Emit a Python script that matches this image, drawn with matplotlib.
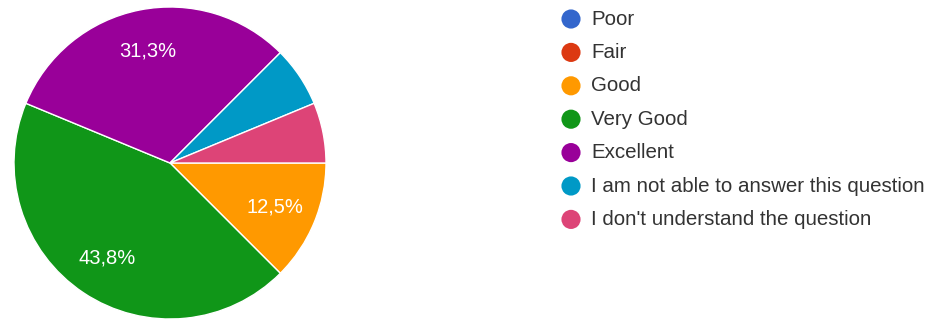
import matplotlib
matplotlib.use("Agg")
import matplotlib.pyplot as plt

categories = ["Poor", "Fair", "Good", "Very Good", "Excellent",
              "I am not able to answer this question",
              "I don't understand the question"]
counts = [0, 0, 2, 7, 5, 1, 1]
colors = ["#3366cc", "#dc3912", "#ff9900", "#109618", "#990099",
          "#0099c6", "#dd4477"]

plt.rcParams["font.family"] = ["Liberation Sans", "DejaVu Sans"]

W, H = 940, 322
fig = plt.figure(figsize=(W / 100, H / 100), dpi=100)
fig.patch.set_facecolor("white")

# pie axes, placed in pixel units
cx, cy, r = 170, 163, 156
ax = fig.add_axes([(cx - r) / W, (H - cy - r) / H, 2 * r / W, 2 * r / H])


def pct_label(p):
    if p < 10:
        return ""
    # round half up, e.g. 31.25 -> 31,3
    return f"{int(p * 10 + 0.5 + 1e-9) / 10:.1f}%".replace(".", ",")


wedges, texts, autotexts = ax.pie(
    counts, colors=colors, startangle=0, counterclock=False,
    autopct=pct_label, pctdistance=0.73,
    wedgeprops=dict(edgecolor="white", linewidth=1.0),
    textprops=dict(color="white", fontsize=14.5))
ax.set_xlim(-1.0, 1.0)
ax.set_ylim(-1.0, 1.0)
ax.set_aspect("equal")

# legend drawn as its own axes
lx0, ly0, row = 555, 19, 33.4
lax = fig.add_axes([lx0 / W, 0, (W - lx0) / W, 1])
lax.set_xlim(lx0, W)
lax.set_ylim(H, 0)
lax.axis("off")
for i, (lab, col) in enumerate(zip(categories, colors)):
    y = ly0 + i * row
    lax.scatter([571], [y], s=190, color=col, edgecolors="none")
    lax.text(591, y, lab, va="center", ha="left", fontsize=14.8,
             color="#333333")

fig.savefig("out.png", dpi=100)
